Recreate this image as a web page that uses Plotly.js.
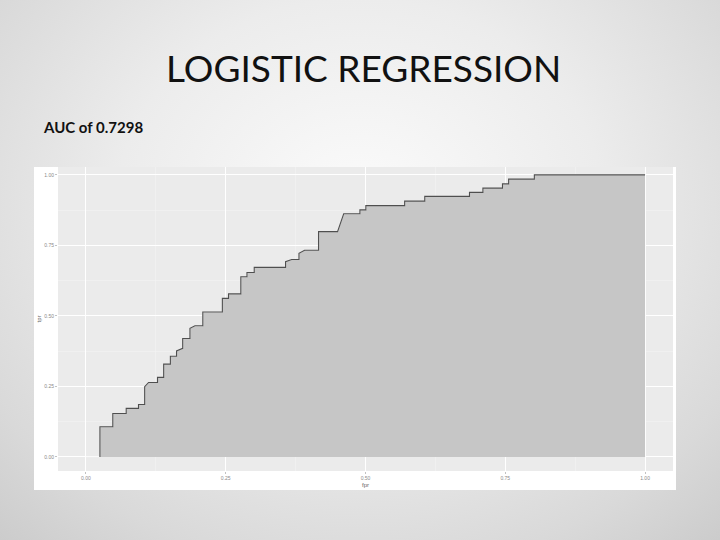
<!DOCTYPE html>
<html>
<head>
<meta charset="utf-8">
<script src="https://cdn.plot.ly/plotly-3.0.1.min.js"></script>
<style>
  html, body { margin:0; padding:0; width:720px; height:540px; overflow:hidden; }
  body { background: radial-gradient(ellipse 75% 85% at 50% 38%, #fbfbfb 0%, #ececec 45%, #d9d9d9 80%, #cbcbcb 100%); }
  #chart { width:720px; height:540px; }
</style>
</head>
<body>
<div id="chart"></div>
<script>
// ROC curve vertices (false positive rate, true positive rate)
const fpr = [0, 0.025, 0.025, 0.048, 0.048, 0.072, 0.072, 0.094, 0.094, 0.105, 0.105, 0.112,
  0.128, 0.128, 0.139, 0.139, 0.151, 0.151, 0.162, 0.162, 0.173, 0.173, 0.186, 0.186, 0.195,
  0.209, 0.209, 0.244, 0.244, 0.255, 0.255, 0.277, 0.277, 0.288, 0.288, 0.301, 0.301,
  0.357, 0.357, 0.368, 0.381, 0.381, 0.391, 0.416, 0.416, 0.450, 0.461,
  0.490, 0.490, 0.5006, 0.5006, 0.570, 0.570, 0.606, 0.606, 0.686, 0.686, 0.710, 0.710,
  0.745, 0.745, 0.756, 0.756, 0.802, 0.802, 1.0];
const tpr = [0, 0, 0.107, 0.107, 0.154, 0.154, 0.172, 0.172, 0.186, 0.186, 0.249, 0.264,
  0.264, 0.282, 0.282, 0.329, 0.329, 0.357, 0.357, 0.376, 0.385, 0.420, 0.420, 0.456, 0.465,
  0.465, 0.514, 0.514, 0.562, 0.562, 0.578, 0.578, 0.639, 0.639, 0.654, 0.654, 0.672,
  0.672, 0.692, 0.700, 0.700, 0.722, 0.733, 0.733, 0.799, 0.799, 0.862,
  0.862, 0.876, 0.876, 0.891, 0.891, 0.907, 0.907, 0.924, 0.924, 0.938, 0.938, 0.953,
  0.953, 0.968, 0.968, 0.985, 0.985, 1.0, 1.0];
const tickVals = [0, 0.25, 0.5, 0.75, 1];
const tickText = ['0.00', '0.25', '0.50', '0.75', '1.00'];
const titleText = 'LOGISTIC REGRESSION';
const subtitleText = 'AUC of 0.7298';

const areaTrace = {
  x: fpr, y: tpr, type: 'scatter', mode: 'lines',
  line: { color: '#f4f4f4', width: 0.8, shape: 'linear' },
  fill: 'tozeroy', fillcolor: '#c6c6c6', hoverinfo: 'skip', showlegend: false
};
const lineTrace = {
  x: fpr.slice(1), y: tpr.slice(1), type: 'scatter', mode: 'lines',
  line: { color: '#4f4f4f', width: 1.1, shape: 'linear' },
  hoverinfo: 'skip', showlegend: false
};

const tickFont = { family: 'Liberation Sans, Arial, sans-serif', size: 5, color: '#8a8a8a' };
const axisCommon = {
  tickmode: 'array', tickvals: tickVals, ticktext: tickText,
  showgrid: true, gridcolor: '#ffffff', gridwidth: 1,
  zeroline: false, showline: false,
  ticks: 'outside', ticklen: 2, tickwidth: 0.6, tickcolor: '#9a9a9a',
  tickfont: tickFont,
  minor: { tick0: 0.125, dtick: 0.25, showgrid: true, gridcolor: '#f4f4f4', gridwidth: 0.6, ticks: '' },
  automargin: false, fixedrange: true
};

const layout = {
  width: 720, height: 540,
  margin: { l: 58, r: 47, t: 167, b: 69 },
  paper_bgcolor: 'rgba(0,0,0,0)',
  plot_bgcolor: 'rgba(0,0,0,0)',
  title: {
    text: titleText, x: 0.497, xanchor: 'center', xref: 'paper',
    y: 1 - 69/540, yanchor: 'middle',
    font: { family: 'Lato, Open Sans, sans-serif', size: 37, color: '#111111' }
  },
  xaxis: Object.assign({}, axisCommon, {
    range: [-0.05, 1.05],
    title: { text: 'fpr', font: { family: 'Liberation Sans, Arial, sans-serif', size: 6, color: '#666' }, standoff: 2 }
  }),
  yaxis: Object.assign({}, axisCommon, {
    range: [-0.05, 1.028],
    title: { text: 'tpr', font: { family: 'Liberation Sans, Arial, sans-serif', size: 6, color: '#666' }, standoff: 2 }
  }),
  shapes: [
    { type: 'rect', xref: 'paper', yref: 'paper', layer: 'below',
      x0: (34-58)/615, x1: (676-58)/615, y0: (471-490)/304, y1: 1,
      fillcolor: '#ffffff', line: { width: 0 } },
    { type: 'rect', xref: 'paper', yref: 'paper', layer: 'below',
      x0: 0, x1: 1, y0: 0, y1: 1,
      fillcolor: '#ebebeb', line: { width: 0 } }
  ],
  annotations: [
    { text: '<b>' + subtitleText + '</b>', xref: 'paper', yref: 'paper',
      x: (41-58)/615, xanchor: 'left', y: (471-127)/304, yanchor: 'middle',
      showarrow: false, font: { family: 'Lato, Open Sans, sans-serif', size: 15, color: '#111111' } }
  ],
  showlegend: false
};

Plotly.newPlot('chart', [areaTrace, lineTrace], layout, { staticPlot: true, displayModeBar: false });
</script>
</body>
</html>
